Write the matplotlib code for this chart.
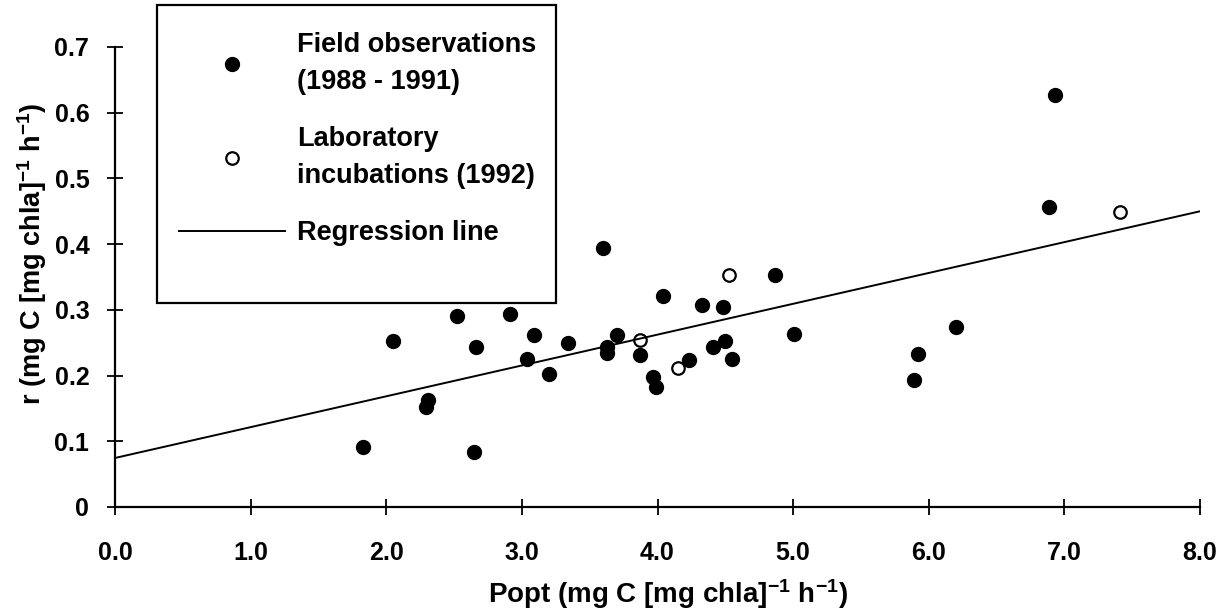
import matplotlib.pyplot as plt
from matplotlib.patches import Rectangle

plt.rcParams['font.family'] = 'Liberation Sans'
plt.rcParams['font.weight'] = 'bold'
plt.rcParams['axes.labelweight'] = 'bold'
plt.rcParams['mathtext.fontset'] = 'custom'
plt.rcParams['mathtext.rm'] = 'Liberation Sans:bold'
plt.rcParams['mathtext.default'] = 'rm'

# field observations (1988 - 1991)
field_x = [1.83, 2.05, 2.29, 2.31, 2.52, 2.65, 2.66, 2.91, 3.04, 3.09, 3.20,
           3.34, 3.60, 3.63, 3.63, 3.70, 3.87, 3.97, 3.99, 4.04, 4.23, 4.33,
           4.41, 4.48, 4.50, 4.55, 4.87, 5.01, 5.89, 5.92, 6.20, 6.89, 6.93]
field_y = [0.092, 0.252, 0.152, 0.163, 0.291, 0.083, 0.243, 0.293, 0.225, 0.262, 0.202,
           0.250, 0.394, 0.244, 0.235, 0.262, 0.231, 0.198, 0.182, 0.321, 0.223, 0.307,
           0.244, 0.304, 0.253, 0.225, 0.353, 0.263, 0.193, 0.233, 0.274, 0.457, 0.627]

# laboratory incubations (1992)
lab_x = [3.87, 4.15, 4.53, 7.41]
lab_y = [0.254, 0.212, 0.353, 0.449]

# regression line end points
reg_x = [0.0, 8.0]
reg_y = [0.0746, 0.450]

xticks = [0, 1, 2, 3, 4, 5, 6, 7, 8]
xtick_labels = ['0.0', '1.0', '2.0', '3.0', '4.0', '5.0', '6.0', '7.0', '8.0']
yticks = [0, 0.1, 0.2, 0.3, 0.4, 0.5, 0.6, 0.7]
ytick_labels = ['0', '0.1', '0.2', '0.3', '0.4', '0.5', '0.6', '0.7']

fig = plt.figure(figsize=(12.24, 6.15), dpi=100)
ax = fig.add_axes([115/1224, 1-507/615, (1200-115)/1224, (507-47)/615])

ax.plot(field_x, field_y, 'o', color='black', markersize=10,
        label='Field observations\n(1988 - 1991)', clip_on=False)
ax.plot(lab_x, lab_y, 'o', markerfacecolor='white', markeredgecolor='black',
        markeredgewidth=1.6, markersize=9, label='Laboratory\nincubations (1992)')
ax.plot(reg_x, reg_y, '-', color='black', linewidth=1.4, label='Regression line')

ax.set_xlim(0, 8)
ax.set_ylim(0, 0.7)
ax.set_xticks(xticks)
ax.set_xticklabels(xtick_labels)
ax.set_yticks(yticks)
ax.set_yticklabels(ytick_labels)
ax.tick_params(direction='inout', length=11, width=1.3, labelsize=18)
ax.tick_params(axis='x', pad=19)
ax.tick_params(axis='y', pad=13)
for s in ['top', 'right']:
    ax.spines[s].set_visible(False)
for s in ['left', 'bottom']:
    ax.spines[s].set_linewidth(1.6)

ax.set_xlabel('Popt (mg C [mg chla]$^{-1}$ h$^{-1}$)', fontsize=20)
ax.set_ylabel('r (mg C [mg chla]$^{-1}$ h$^{-1}$)', fontsize=19.5)
ax.yaxis.set_label_coords(-0.061, 0.55)
ax.xaxis.set_label_coords(0.51, -0.152)

# legend box
fig.patches.append(Rectangle((157/1224, 1-303/615), (556-157)/1224, (303-5)/615,
                             transform=fig.transFigure, fill=True, facecolor='white',
                             edgecolor='black', linewidth=1.6, zorder=5))
leg = fig.legend(loc='upper left', bbox_to_anchor=(179/1224, 1-32/615),
                 frameon=False, fontsize=19.5, handlelength=3.9, handletextpad=0.45,
                 labelspacing=1.15, borderpad=0, borderaxespad=0)
for t in leg.get_texts():
    t.set_linespacing(1.55)
leg.set_zorder(6)

fig.savefig('out.png', dpi=100)
